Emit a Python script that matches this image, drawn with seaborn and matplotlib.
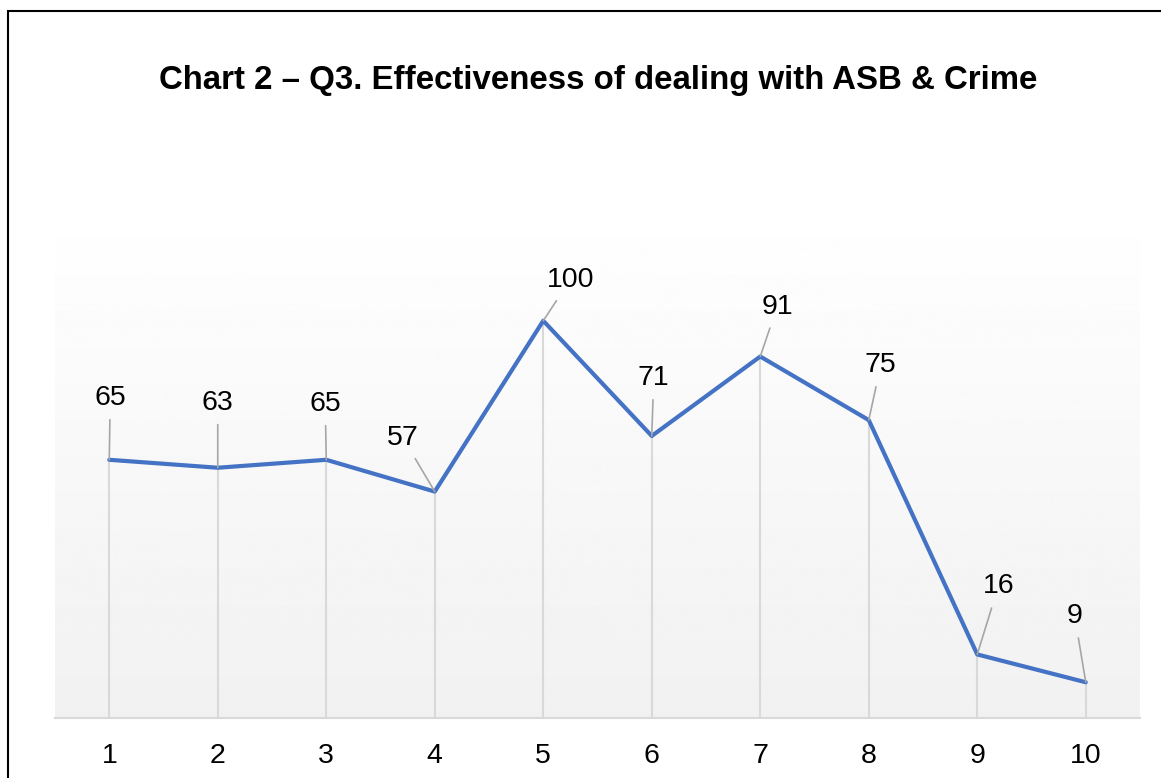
import numpy as np
import pandas as pd
import matplotlib.pyplot as plt
import seaborn as sns
from matplotlib.patches import Rectangle

sns.set_theme(style="white")
plt.rcParams['font.family'] = ['Liberation Sans', 'DejaVu Sans']

# Chart data
categories = [1, 2, 3, 4, 5, 6, 7, 8, 9, 10]
scores = [65, 63, 65, 57, 100, 71, 91, 75, 16, 9]
# label offsets (pixels) from each point, as placed in the original
label_dx = [1, 0, -1, -32, 27, 2, 17, 12, 21, -11]
label_dy = [62, 65, 56, 54, 41, 58, 50, 55, 68, 66]

df = pd.DataFrame({'category': categories, 'score': scores})

fig = plt.figure(figsize=(11.61, 7.78), dpi=100)
ax = fig.add_axes([55 / 1161, 60 / 778, 1085 / 1161, 518 / 778])

# gradient background of the plot area
grad = np.linspace(1.0, 0.945, 256).reshape(-1, 1)
ax.imshow(grad, cmap='gray', vmin=0, vmax=1, aspect='auto',
          extent=[0.5, 10.5, 0, 130.4], origin='upper', zorder=0)

# drop lines
ax.vlines(df['category'], 0, df['score'], color='#d9d9d9', lw=1.5, zorder=1)

sns.lineplot(data=df, x='category', y='score', color='#4472C4', lw=3,
             ax=ax, zorder=3)

# data labels with leader lines
for x, y, dx, dy in zip(categories, scores, label_dx, label_dy):
    ax.annotate(str(y), xy=(x, y), xytext=(dx, dy), textcoords='offset pixels',
                ha='center', va='center', fontsize=20.5, color='black',
                arrowprops=dict(arrowstyle='-', color='#a6a6a6', lw=1.2,
                                shrinkA=4, shrinkB=0), zorder=4)

ax.set_xlim(0.5, 10.5)
ax.set_ylim(0, 130.4)
ax.set_xticks(categories)
ax.set_xticklabels([str(c) for c in categories], fontsize=20.5, color='black')
ax.set_yticks([])
ax.set_xlabel('')
ax.set_ylabel('')
ax.tick_params(axis='x', length=0, pad=18)
for side in ['top', 'right', 'left']:
    ax.spines[side].set_visible(False)
ax.spines['bottom'].set_color('#d9d9d9')
ax.spines['bottom'].set_linewidth(1.5)

fig.text(598 / 1161, 1 - 80 / 778, 'Chart 2 \u2013 Q3. Effectiveness of dealing with ASB & Crime',
         ha='center', va='center', fontsize=23.8, fontweight='bold', color='black')

# outer frame of the chart
fig.patches.append(Rectangle((8 / 1161, -0.1), 1.2, 1 - 11 / 778 + 0.1,
                             transform=fig.transFigure, fill=False,
                             edgecolor='black', lw=1.5))

fig.savefig('out.png', dpi=100)
